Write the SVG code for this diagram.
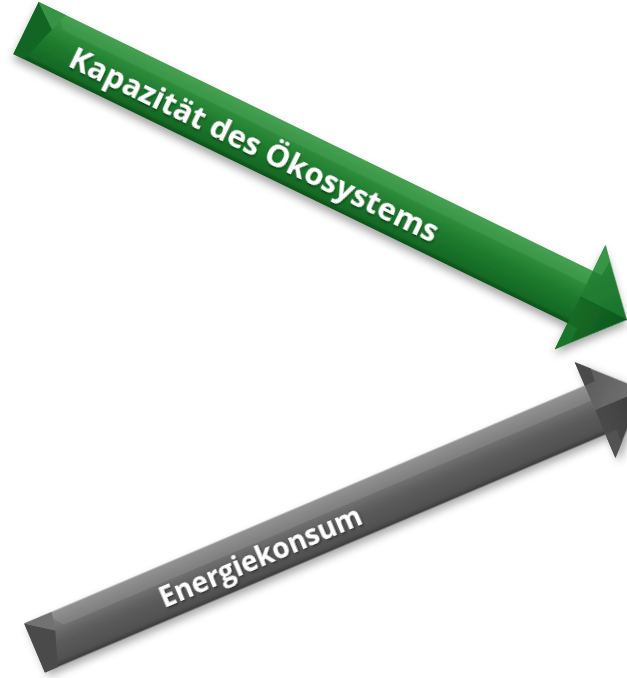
<svg xmlns="http://www.w3.org/2000/svg" width="627" height="678" viewBox="0 0 627 678">
  <defs>
    <filter id="shadow" x="-10%" y="-20%" width="120%" height="140%">
      <feDropShadow dx="2" dy="5" stdDeviation="4" flood-color="#000" flood-opacity="0.35"/>
    </filter>
    <filter id="tshadow" x="-5%" y="-20%" width="110%" height="140%">
      <feDropShadow dx="1" dy="1.5" stdDeviation="1" flood-color="#000" flood-opacity="0.45"/>
    </filter>
    <linearGradient id="gShaft" x1="0" y1="0" x2="0" y2="1">
      <stop offset="0" stop-color="#3f9a4b"/>
      <stop offset="0.3" stop-color="#2c8a3a"/>
      <stop offset="0.55" stop-color="#1e7a2d"/>
      <stop offset="0.9" stop-color="#156a25"/>
      <stop offset="1" stop-color="#0b4f17"/>
    </linearGradient>
    <linearGradient id="gHeadUp" x1="0" y1="0" x2="1" y2="1">
      <stop offset="0" stop-color="#2a883a"/>
      <stop offset="1" stop-color="#1a722a"/>
    </linearGradient>
    <linearGradient id="gHeadLo" x1="0" y1="0" x2="1" y2="0">
      <stop offset="0" stop-color="#156b25"/>
      <stop offset="1" stop-color="#0e581c"/>
    </linearGradient>
    <linearGradient id="kShaft" x1="0" y1="0" x2="0" y2="1">
      <stop offset="0" stop-color="#8a8a8a"/>
      <stop offset="0.3" stop-color="#717171"/>
      <stop offset="0.55" stop-color="#5c5c5c"/>
      <stop offset="0.9" stop-color="#505050"/>
      <stop offset="1" stop-color="#3a3a3a"/>
    </linearGradient>
    <linearGradient id="kHeadUp" x1="0" y1="0" x2="1" y2="1">
      <stop offset="0" stop-color="#555555"/>
      <stop offset="1" stop-color="#747474"/>
    </linearGradient>
    <linearGradient id="kHeadLo" x1="0" y1="0" x2="1" y2="0">
      <stop offset="0" stop-color="#4a4a4a"/>
      <stop offset="1" stop-color="#3b3b3b"/>
    </linearGradient>
    <style>
      .label { font-family: "Open Sans", "Liberation Sans", sans-serif; font-weight: bold; fill: #ffffff; }
    </style>
  </defs>

  <g id="connectors"/>

  <g id="arrow-kapazitaet" transform="translate(26,28) rotate(25.9)">
    <g filter="url(#shadow)">
      <rect x="0" y="-29" width="617" height="58" fill="url(#gShaft)"/>
      <polygon points="616,-58 668,0 616,0" fill="url(#gHeadUp)"/>
      <polygon points="616,58 668,0 616,0" fill="url(#gHeadLo)"/>
    </g>
    <polygon points="22,-29 616,-29 616,-14 34,-14" fill="#5cb566" opacity="0.25"/>
    <polygon points="0,-29 24,-10 12,29 0,29" fill="#136524"/>
    <polygon points="0,-29 24,-10 30,-29" fill="#389445"/>
    <polygon points="616,-58 616,-29 626,-29 627,-45" fill="#379646"/>
    <polygon points="616,29 616,58 627,45 627,29" fill="#1a752a"/>
    <line x1="616" y1="0" x2="668" y2="0" stroke="#11611f" stroke-width="1"/>
    <text class="label" x="53" y="16" font-size="31" filter="url(#tshadow)">Kapazität des Ökosystems</text>
  </g>

  <g id="arrow-energiekonsum" transform="translate(34.5,648) rotate(-23)">
    <g filter="url(#shadow)">
      <rect x="0" y="-26.5" width="610" height="53" fill="url(#kShaft)"/>
      <polygon points="609,-52 661,0 609,0" fill="url(#kHeadUp)"/>
      <polygon points="609,52 661,0 609,0" fill="url(#kHeadLo)"/>
    </g>
    <polygon points="24,-26.5 609,-26.5 609,-10 36,-10" fill="#b0b0b0" opacity="0.22"/>
    <polygon points="0,-26.5 26,-8 14,26.5 0,26.5" fill="#4a4a4a"/>
    <polygon points="0,-26.5 26,-8 30,-26.5" fill="#727272"/>
    <polygon points="609,-52 609,-26.5 620,-26.5 621,-40" fill="#4a4a4a"/>
    <polygon points="609,26.5 609,52 621,40 621,26.5" fill="#525252"/>
    <text class="label" x="135" y="14" font-size="28" filter="url(#tshadow)">Energiekonsum</text>
  </g>
</svg>
